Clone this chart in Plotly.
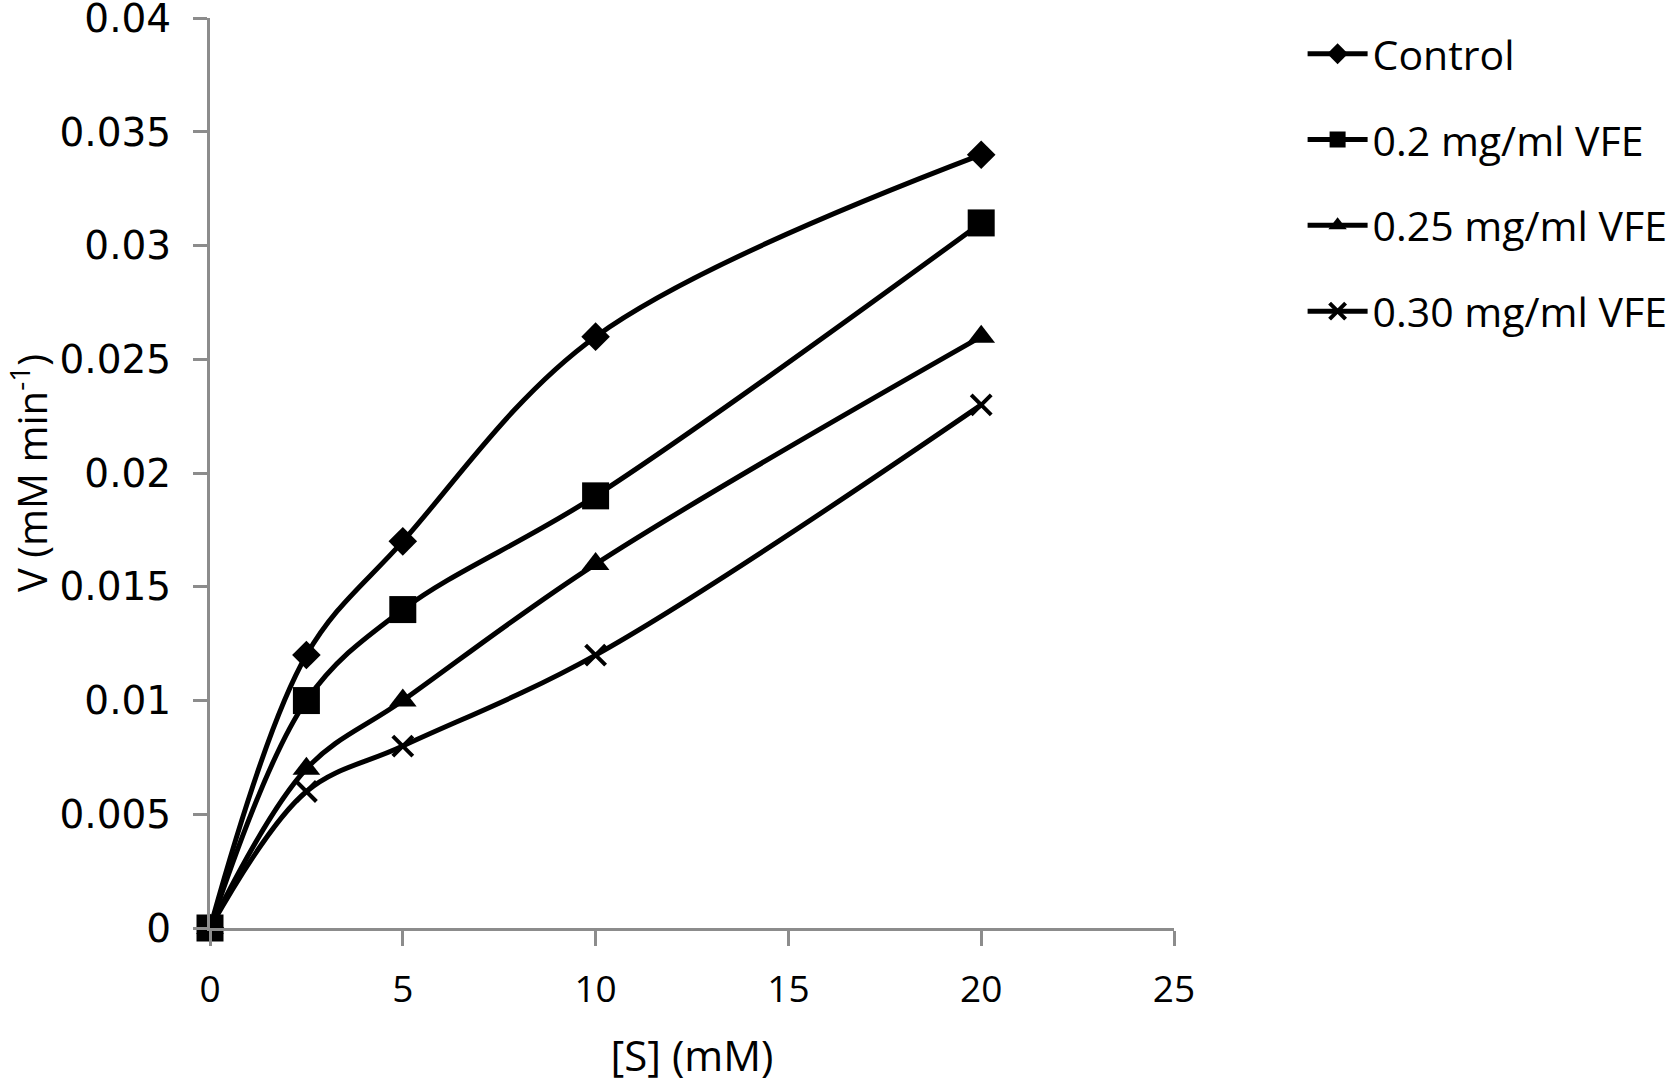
import plotly.graph_objects as go

substrate = [0, 2.5, 5, 10, 20]
control = [0, 0.012, 0.017, 0.026, 0.034]
vfe_020 = [0, 0.010, 0.014, 0.019, 0.031]
vfe_025 = [0, 0.007, 0.010, 0.016, 0.026]
vfe_030 = [0, 0.006, 0.008, 0.012, 0.023]

series = [
    ("Control", control, "diamond", 22, 0),
    ("0.2 mg/ml VFE", vfe_020, "square", 27, 0),
    ("0.25 mg/ml VFE", vfe_025, "triangle-up", 24, 0),
    ("0.30 mg/ml VFE", vfe_030, "x-thin", 20, 4),
]

fig = go.Figure()
for i, (name, vals, sym, size, lw) in enumerate(series):
    fig.add_trace(go.Scatter(
        x=substrate, y=vals, name=name, mode="lines+markers",
        line=dict(color="black", width=5, shape="spline", smoothing=1),
        marker=dict(symbol=sym, size=size, color="black",
                    line=dict(color="black", width=lw)),
        legendgroup=f"g{i}", cliponaxis=False,
    ))

axis_grey = "#8c8c8c"
fig.update_layout(
    width=1673, height=1083,
    paper_bgcolor="white", plot_bgcolor="white",
    margin=dict(l=210, r=499, t=18, b=155, autoexpand=False),
    font=dict(family="Open Sans", color="black"),
    legend=dict(
        xref="container", yref="container", x=0.7786, y=0.981,
        xanchor="left", yanchor="top",
        font=dict(family="Open Sans", size=41, color="black"),
        tracegroupgap=29.5, itemwidth=60,
        bgcolor="rgba(0,0,0,0)",
    ),
)
fig.update_xaxes(
    range=[0, 25], tickvals=[0, 5, 10, 15, 20, 25],
    showgrid=False, zeroline=False, automargin=False,
    showline=True, linecolor=axis_grey, linewidth=3,
    ticks="outside", ticklen=15, tickwidth=3, tickcolor=axis_grey,
    tickfont=dict(family="Open Sans", size=37, color="black"),
    ticklabelstandoff=12, ticklabeloverflow="allow",
    title=dict(text="[S] (mM)", font=dict(family="Open Sans", size=42, color="black"), standoff=34),
)
fig.update_yaxes(
    range=[0, 0.04001], tickvals=[0, 0.005, 0.01, 0.015, 0.02, 0.025, 0.03, 0.035, 0.04],
    ticktext=["0", "0.005", "0.01", "0.015", "0.02", "0.025", "0.03", "0.035", "0.04"],
    showgrid=False, zeroline=False, automargin=False,
    showline=True, linecolor=axis_grey, linewidth=3,
    ticks="outside", ticklen=14, tickwidth=3, tickcolor=axis_grey,
    tickfont=dict(family="DejaVu Sans", size=39, color="black"),
    ticklabelstandoff=14, ticklabeloverflow="allow",
    title=dict(text="V (mM min<sup>-1</sup>)", font=dict(family="Open Sans", size=40, color="black"), standoff=62),
)

fig.write_html("out.html", config={"displayModeBar": False},
               post_script="document.body.style.margin='0';")
